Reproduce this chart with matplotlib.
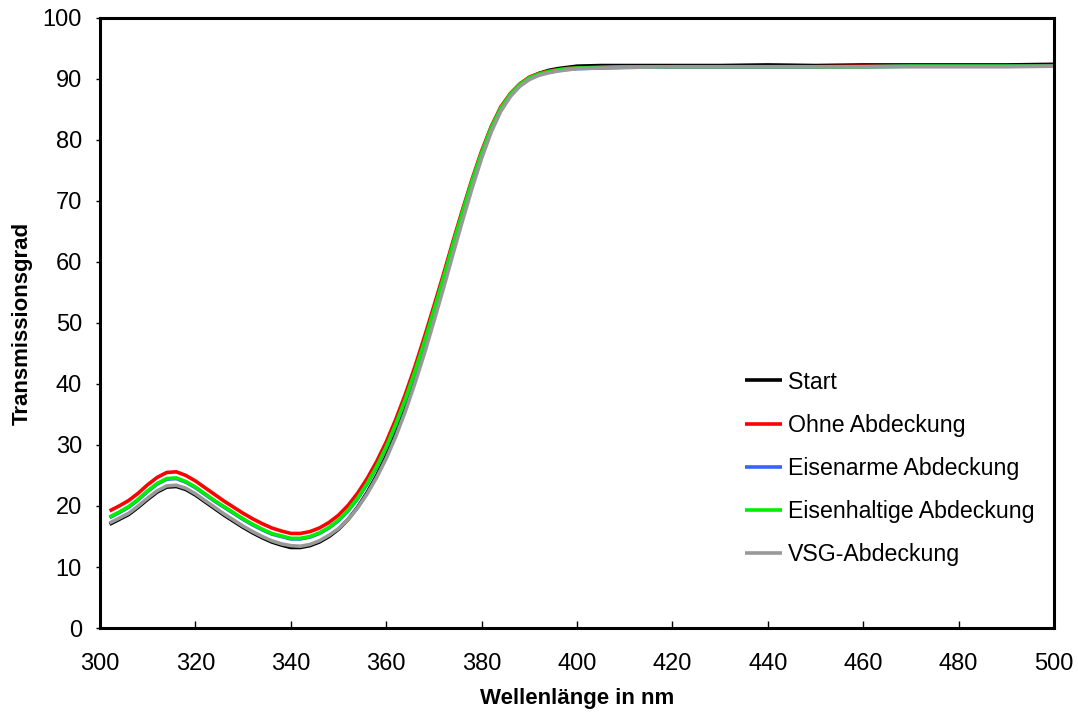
import matplotlib
matplotlib.use("Agg")
import matplotlib.pyplot as plt

plt.rcParams['font.family'] = ['Liberation Sans', 'DejaVu Sans']

# Wellenlänge in nm
wavelength = [302, 304, 306, 308, 310, 312, 314, 316, 318, 320,
              322, 324, 326, 328, 330, 332, 334, 336, 338, 340,
              342, 344, 346, 348, 350, 352, 354, 356, 358, 360,
              362, 364, 366, 368, 370, 372, 374, 376, 378, 380,
              382, 384, 386, 388, 390, 392, 394, 396, 398, 400,
              405, 410, 420, 430, 440, 450, 460, 470, 480, 490, 500]

start = [17.0, 17.8, 18.6, 19.8, 21.1, 22.3, 23.1, 23.2, 22.7, 21.8,
         20.7, 19.6, 18.5, 17.5, 16.5, 15.6, 14.8, 14.1, 13.6, 13.2,
         13.2, 13.5, 14.1, 15.0, 16.2, 17.8, 19.8, 22.2, 25.0, 28.2,
         31.9, 36.1, 40.7, 45.7, 51.0, 56.4, 62.0, 67.4, 72.6, 77.4,
         81.6, 84.9, 87.3, 89.0, 90.2, 90.9, 91.4, 91.7, 91.9, 92.1,
         92.2, 92.2, 92.2, 92.2, 92.3, 92.2, 92.3, 92.3, 92.3, 92.3, 92.4]

ohne = [19.2, 20.0, 20.9, 22.1, 23.5, 24.7, 25.5, 25.6, 25.0, 24.1,
        23.0, 21.9, 20.8, 19.8, 18.8, 17.9, 17.1, 16.4, 15.9, 15.5,
        15.5, 15.8, 16.4, 17.3, 18.5, 20.1, 22.1, 24.5, 27.3, 30.5,
        34.2, 38.3, 42.8, 47.7, 52.8, 58.0, 63.4, 68.6, 73.6, 78.2,
        82.2, 85.4, 87.6, 89.2, 90.3, 90.9, 91.3, 91.5, 91.7, 91.8,
        91.9, 92.0, 92.0, 92.0, 92.0, 92.0, 92.1, 92.1, 92.1, 92.1, 92.2]

eisenarm = [18.1, 18.9, 19.8, 21.0, 22.4, 23.6, 24.4, 24.5, 23.9, 23.0,
            21.9, 20.8, 19.8, 18.8, 17.8, 16.9, 16.1, 15.4, 15.0, 14.6,
            14.6, 14.9, 15.5, 16.4, 17.6, 19.2, 21.2, 23.6, 26.4, 29.6,
            33.3, 37.4, 41.9, 46.8, 52.0, 57.3, 62.8, 68.1, 73.2, 77.8,
            81.9, 85.1, 87.4, 89.0, 90.1, 90.7, 91.1, 91.4, 91.6, 91.7,
            91.8, 91.9, 92.0, 92.0, 92.0, 92.0, 92.0, 92.1, 92.1, 92.1, 92.1]

eisenhaltig = [18.2, 19.0, 19.9, 21.1, 22.5, 23.7, 24.5, 24.6, 24.0, 23.1,
               22.0, 20.9, 19.9, 18.9, 17.9, 17.0, 16.2, 15.5, 15.1, 14.7,
               14.7, 15.0, 15.6, 16.5, 17.7, 19.3, 21.3, 23.7, 26.5, 29.7,
               33.4, 37.5, 42.0, 46.9, 52.1, 57.4, 62.9, 68.2, 73.3, 77.9,
               82.0, 85.2, 87.5, 89.1, 90.2, 90.8, 91.2, 91.5, 91.7, 91.8,
               91.9, 92.0, 92.0, 92.0, 92.0, 92.0, 92.0, 92.1, 92.1, 92.1, 92.1]

vsg = [17.2, 18.0, 18.8, 20.0, 21.3, 22.5, 23.3, 23.4, 22.9, 22.0,
       20.9, 19.8, 18.7, 17.7, 16.7, 15.8, 15.0, 14.3, 13.8, 13.5,
       13.4, 13.7, 14.3, 15.2, 16.3, 17.8, 19.7, 22.0, 24.7, 27.8,
       31.4, 35.5, 40.1, 45.0, 50.3, 55.7, 61.3, 66.8, 72.1, 77.0,
       81.3, 84.7, 87.1, 88.8, 89.9, 90.6, 91.0, 91.3, 91.5, 91.7,
       91.8, 91.9, 92.0, 92.0, 92.0, 92.0, 92.0, 92.0, 92.0, 92.0, 92.1]

series = [
    ("Start", start, "#000000"),
    ("Ohne Abdeckung", ohne, "#ff0000"),
    ("Eisenarme Abdeckung", eisenarm, "#3366ff"),
    ("Eisenhaltige Abdeckung", eisenhaltig, "#00ee00"),
    ("VSG-Abdeckung", vsg, "#999999"),
]

fig = plt.figure(figsize=(10.78, 7.16), dpi=100)
ax = fig.add_axes([0.0928, 0.1229, 0.885, 0.852])

for label, values, color in series:
    ax.plot(wavelength, values, color=color, linewidth=2.6, label=label,
            solid_capstyle='butt')

ax.set_xlim(300, 500)
ax.set_ylim(0, 100)
ax.set_xticks(range(300, 501, 20))
ax.set_yticks(range(0, 101, 10))

for spine in ax.spines.values():
    spine.set_linewidth(2.2)
ax.tick_params(axis='x', direction='in', length=5, width=1, labelsize=17, pad=18)
ax.tick_params(axis='y', direction='out', length=3, width=1, labelsize=17, pad=10)

ax.set_xlabel('Wellenlänge in nm', fontsize=16, fontweight='bold', labelpad=9)
ax.set_ylabel('Transmissionsgrad', fontsize=16, fontweight='bold', labelpad=7)

ax.legend(loc='upper left', bbox_to_anchor=(0.676, 0.422), frameon=False,
          fontsize=16.7, handlelength=1.6, handletextpad=0.27,
          labelspacing=0.87, borderpad=0, borderaxespad=0)

fig.savefig('out.png', dpi=100)
